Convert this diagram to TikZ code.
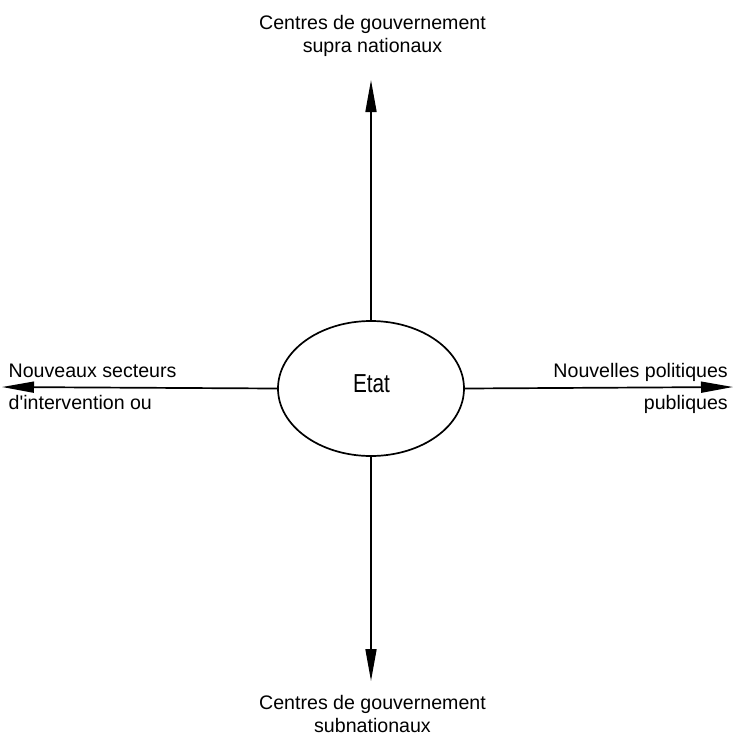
\documentclass[tikz,border=0pt]{standalone}
\usepackage{fontspec}
\setmainfont{Liberation Sans}
% families without the TeX quote mapping, so ' stays straight
\newfontfamily\plainsans{Liberation Sans}
\newfontfamily\condensedsans[FakeStretch=0.8]{Liberation Sans}
\usetikzlibrary{arrows.meta,shapes.geometric}
\begin{document}
\begin{tikzpicture}[x=1pt,y=-1pt,
  axis/.style={line width=1.7pt,-{Triangle[length=32pt,width=11pt]}},
  label/.style={font=\plainsans\fontsize{19.6}{23.5}\selectfont,inner sep=0pt},
  core/.style={draw,line width=1.7pt,ellipse,minimum width=186pt,minimum height=135pt,inner sep=0pt},
  coretext/.style={font=\condensedsans\fontsize{26}{28}\selectfont,inner sep=0pt}]
\useasboundingbox (0,0) rectangle (734,740);
% central state ellipse
\node[core] (etat) at (371,388.5) {};
\node[coretext] (etatlabel) at (371.5,383.5) {Etat};
% arrow tips
\coordinate (tipN) at (371,80);
\coordinate (tipS) at (371,681);
\coordinate (tipW) at (2,387);
\coordinate (tipE) at (733,387);
\draw[axis] (etat.north) -- (tipN);
\draw[axis] (etat.south) -- (tipS);
\draw[axis] (etat.west) -- (tipW);
\draw[axis] (etat.east) -- (tipE);
% upper label
\node[label,anchor=base] (supraA) at (372.5,29) {Centres de gouvernement};
\node[label,anchor=base] (supraB) at (372.5,52.5) {supra nationaux};
% lower label
\node[label,anchor=base] (subA) at (372.5,709) {Centres de gouvernement};
\node[label,anchor=base] (subB) at (372.5,732) {subnationaux};
% left label
\node[label,anchor=base west] (secteursA) at (8.5,377) {Nouveaux secteurs};
\node[label,anchor=base west] (secteursB) at (8.5,409.5) {d'intervention ou};
% right label
\node[label,anchor=base east] (politiquesA) at (728,377) {Nouvelles politiques};
\node[label,anchor=base east] (politiquesB) at (728,409) {publiques};
\end{tikzpicture}
\end{document}
